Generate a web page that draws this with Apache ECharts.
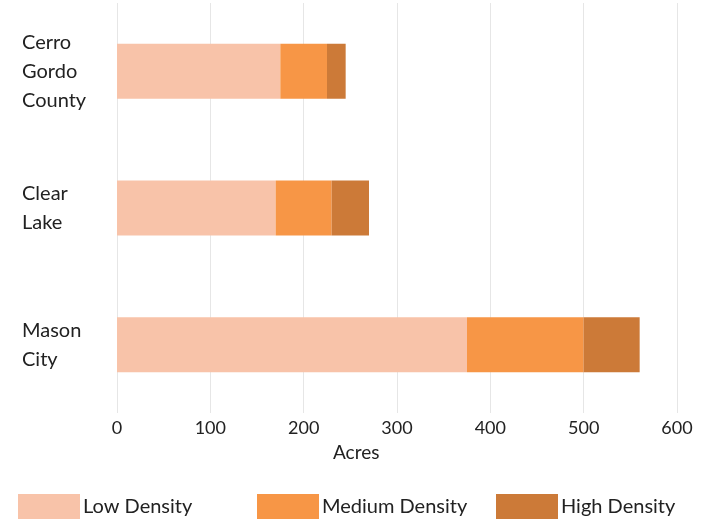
<!DOCTYPE html>
<html>
<head>
    <meta charset="utf-8">
    <title>Housing density acres</title>
    <script src="https://cdn.jsdelivr.net/npm/echarts@6/dist/echarts.min.js"></script>
    <style>html,body{margin:0;padding:0;background:#fff;}</style>
</head>
<body>
    <div id="main" style="width:704px;height:519px;"></div>
    <script>
        // data
        var places = ['Cerro\nGordo\nCounty', 'Clear\nLake', 'Mason\nCity'];
        var lowDensity = [175, 170, 375];
        var mediumDensity = [50, 60, 125];
        var highDensity = [20, 40, 60];
        var seriesNames = ['Low Density', 'Medium Density', 'High Density'];
        var colors = ['#F8C3A9', '#F79646', '#CC7A38'];

        var font = 'Lato, "Open Sans", sans-serif';
        var textColor = '#222';

        var chart = echarts.init(document.getElementById('main'));

        function legendAt(x, name) {
            return {
                left: x,
                top: 494,
                padding: 0,
                itemWidth: 62,
                itemHeight: 26,
                itemGap: 0,
                icon: 'rect',
                data: [name],
                textStyle: { fontFamily: font, fontSize: 20, color: textColor, padding: [0, 0, 0, -2] }
            };
        }

        var option = {
            animation: false,
            color: colors,
            grid: { left: 117, right: 27, top: 3, bottom: 106 },
            legend: [
                legendAt(18, seriesNames[0]),
                legendAt(257, seriesNames[1]),
                legendAt(496, seriesNames[2])
            ],
            graphic: [{
                type: 'text',
                left: 333,
                top: 443,
                style: { text: 'Acres', fontFamily: font, fontSize: 19, fill: textColor }
            }],
            xAxis: {
                type: 'value',
                min: 0,
                max: 600,
                interval: 100,
                axisLine: { show: false },
                axisTick: { show: false },
                splitLine: { lineStyle: { color: '#e6e6e6' } },
                axisLabel: { fontFamily: font, fontSize: 18, color: textColor, margin: 6 }
            },
            yAxis: {
                type: 'category',
                inverse: true,
                data: places,
                axisLine: { show: false },
                axisTick: { show: false },
                axisLabel: {
                    fontFamily: font, fontSize: 20, color: textColor,
                    align: 'left', margin: 95, lineHeight: 29
                }
            },
            series: [
                { name: seriesNames[0], type: 'bar', stack: 'acres', barWidth: 55, data: lowDensity },
                { name: seriesNames[1], type: 'bar', stack: 'acres', barWidth: 55, data: mediumDensity },
                { name: seriesNames[2], type: 'bar', stack: 'acres', barWidth: 55, data: highDensity }
            ]
        };

        chart.setOption(option);
    </script>
</body>
</html>
